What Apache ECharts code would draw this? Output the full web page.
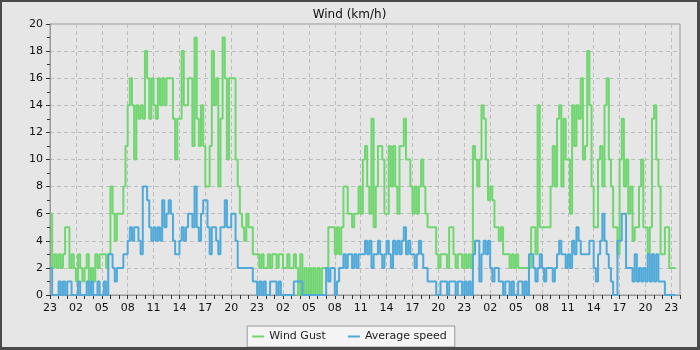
<!DOCTYPE html>
<html>
<head>
<meta charset="utf-8">
<script src="https://cdn.jsdelivr.net/npm/echarts@6/dist/echarts.min.js"></script>
<style>
html,body{margin:0;padding:0;background:#e6e6e6;}
#wrap{width:700px;height:350px;box-sizing:border-box;border-top:2px solid #4a4a4a;border-left:2px solid #4a4a4a;border-right:3px solid #4a4a4a;border-bottom:3px solid #4a4a4a;background:#e6e6e6;}
#chart{width:695px;height:345px;}
</style>
</head>
<body>
<div id="wrap"><div id="chart"></div></div>
<script>
// Samples every 15 minutes, starting at 23:00 of day 0
const gustDay1 = [
  6,2,3,2, 3,2,3,5, 5,2,3,2, 1,3,2,1, 2,3,1,2, 1,3,2,3,
  3,3,2,3, 8,6,4,6, 6,6,8,11, 14,16,14,10, 14,13,14,13, 18,16,13,16,
  14,13,16,14, 16,14,16,16, 16,13,10,13, 13,18,14,14, 16,16,11,19, 13,11,14,11,
  8,8,11,18, 14,16,8,13, 19,16,10,16, 16,16,10,8, 6,5,4,6, 5,5,3,3
];
const gustDay2 = [
  3,2,3,2, 2,3,2,3, 3,2,3,3, 2,2,3,2, 2,3,2,0, 3,0,2,0,
  2,0,2,0, 2,0,2,2, 2,5,5,5, 3,5,3,5, 8,8,6,6, 5,6,6,8,
  6,10,11,8, 6,13,5,8, 11,11,10,6, 6,11,8,11, 8,6,11,11, 13,10,10,8,
  6,8,6,8, 10,8,6,5, 5,5,5,3, 2,3,3,3, 2,5,5,3, 2,3,3,2
];
const gustDay3 = [
  3,2,3,2, 11,10,8,10, 14,13,10,7, 8,7,5,5, 4,5,3,3, 3,2,3,2,
  3,2,2,2, 2,2,2,5, 5,3,14,5, 5,5,5,5, 8,11,8,13, 14,8,13,10,
  10,6,14,11, 14,13,16,10, 11,18,14,8, 5,5,10,11, 8,14,16,10, 8,5,5,3,
  10,13,8,10, 6,8,4,5, 5,8,10,5, 5,3,5,13, 14,10,8,3, 3,5,5,2,
  2,2,2
];
const avgDay1 = [
  2,0,0,0, 1,0,1,0, 1,1,0,0, 0,1,0,0, 0,1,0,1, 0,0,1,0,
  0,1,0,3, 3,2,1,2, 2,2,3,3, 4,5,4,5, 5,4,3,8, 8,7,5,4,
  5,4,5,4, 7,5,6,7, 6,4,3,3, 4,5,4,5, 6,6,5,8, 5,4,6,7,
  7,5,3,5, 5,4,3,5, 5,7,5,5, 6,6,4,2, 2,2,2,2, 2,2,1,1
];
const avgDay2 = [
  0,1,0,1, 0,0,1,1, 1,0,1,0, 0,0,0,0, 0,1,1,1, 1,0,0,0,
  0,0,0,0, 0,0,0,0, 2,1,2,2, 0,1,2,2, 3,2,3,3, 2,3,2,3,
  3,3,4,3, 4,2,3,3, 4,3,2,3, 4,3,2,4, 3,4,3,4, 5,3,4,3,
  3,2,3,4, 3,2,2,1, 1,1,1,0, 0,1,1,1, 0,1,1,1, 0,1,1,0
];
const avgDay3 = [
  1,0,1,0, 3,4,4,1, 3,4,3,4, 2,1,2,2, 1,1,0,1, 1,0,1,0,
  0,1,1,0, 1,0,3,3, 2,1,2,3, 2,1,2,2, 2,1,2,3, 4,3,3,2,
  3,2,4,3, 5,4,3,3, 3,3,4,4, 2,1,3,4, 6,4,3,2, 1,0,0,4,
  4,6,6,2, 2,2,1,3, 1,2,1,2, 1,3,1,3, 1,3,1,1, 1,0,0,0,
  0,0,0
];
const startHour = 23;      // first x tick label hour
const sampleStep = 0.25;   // hours between samples
const hoursShown = 73;
const seriesNames = ['Wind Gust', 'Average speed'];
const seriesColors = ['#70d670', '#4fa9d9'];

const gust = gustDay1.concat(gustDay2, gustDay3);
const avg = avgDay1.concat(avgDay2, avgDay3);
const toPts = arr => arr.map((v, i) => [i * sampleStep, v]);
const pad = n => (n < 10 ? '0' : '') + n;

const FONT = 'DejaVu Sans';
const chart = echarts.init(document.getElementById('chart'), null, {renderer: 'canvas'});
chart.setOption({
  animation: false,
  backgroundColor: '#e6e6e6',
  title: {
    text: 'Wind (km/h)', left: 'center', top: 2,
    textStyle: {fontFamily: FONT, fontSize: 12, fontWeight: 'normal', color: '#111'}
  },
  legend: {
    bottom: 0, left: 'center',
    data: seriesNames,
    icon: 'rect', itemWidth: 12, itemHeight: 2, itemGap: 22,
    backgroundColor: '#f4f4f4', borderColor: '#999', borderWidth: 1,
    padding: [5, 8, 5, 5],
    textStyle: {fontFamily: FONT, fontSize: 11, color: '#222'}
  },
  grid: {
    left: 48, top: 22, right: 17, bottom: 52,
    show: true, borderColor: '#999', borderWidth: 1, backgroundColor: 'transparent'
  },
  xAxis: [
    {
      type: 'value', min: 0, max: hoursShown, interval: 1, position: 'bottom',
      axisLine: {show: true, lineStyle: {color: '#999'}},
      axisTick: {show: true, length: 4, lineStyle: {color: '#333'}},
      axisLabel: {show: false},
      splitLine: {show: false}
    },
    {
      type: 'value', min: 0, max: hoursShown, interval: 3, position: 'bottom',
      axisLine: {show: false}, axisTick: {show: false},
      axisLabel: {
        margin: 8, fontFamily: FONT, fontSize: 11, color: '#111',
        formatter: v => (v % 3 === 0 && v <= 72) ? pad((startHour + v) % 24) : ''
      },
      splitLine: {show: true, showMinLine: false, showMaxLine: false,
        lineStyle: {color: '#bdbdbd', type: [4, 3], width: 1}}
    }
  ],
  yAxis: {
    type: 'value', min: 0, max: 20, interval: 2,
    axisLine: {show: true, lineStyle: {color: '#999'}},
    axisTick: {show: true, length: 4, lineStyle: {color: '#333'}},
    minorTick: {show: true, splitNumber: 2, length: 3, lineStyle: {color: '#333'}},
    axisLabel: {margin: 7, fontFamily: FONT, fontSize: 11, color: '#111'},
    splitLine: {show: true, showMinLine: false, showMaxLine: false,
      lineStyle: {color: '#bdbdbd', type: [4, 3], width: 1}}
  },
  series: [
    {name: seriesNames[0], type: 'line', step: 'end', showSymbol: false, xAxisIndex: 0,
     color: seriesColors[0], lineStyle: {width: 2, color: seriesColors[0]}, data: toPts(gust)},
    {name: seriesNames[1], type: 'line', step: 'end', showSymbol: false, xAxisIndex: 0,
     color: seriesColors[1], lineStyle: {width: 2, color: seriesColors[1]}, data: toPts(avg)}
  ]
});
</script>
</body>
</html>
